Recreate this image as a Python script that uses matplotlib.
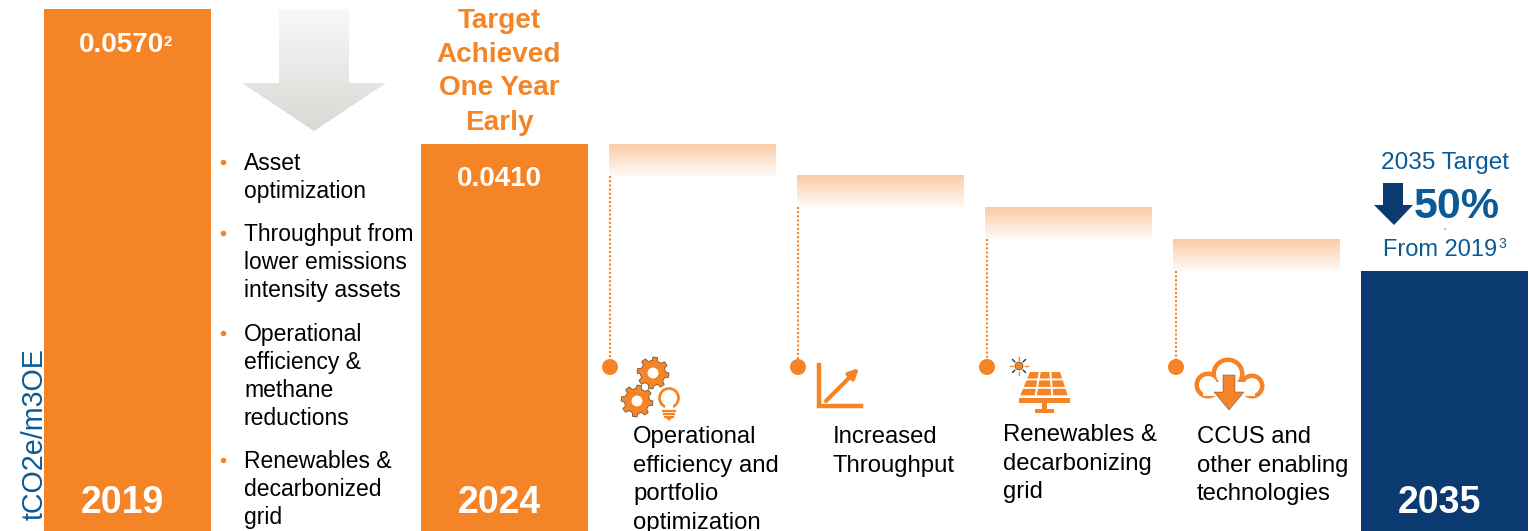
import numpy as np
from matplotlib import pyplot as plt
from matplotlib.patches import Polygon, Circle, Rectangle
from matplotlib.colors import LinearSegmentedColormap

plt.rcParams['font.family'] = ['Liberation Sans', 'DejaVu Sans']

# bars, heights read in picture pixels because the chart is not to scale
years = ['2019', '2024', '2035']
bar_values = ['0.0570', '0.0410']
bar_heights = [522, 387, 260]
step_tops = [144, 175, 207, 239]
step_labels = [
    ['Operational', 'efficiency and', 'portfolio', 'optimization'],
    ['Increased', 'Throughput'],
    ['Renewables &', 'decarbonizing', 'grid'],
    ['CCUS and', 'other enabling', 'technologies'],
]
bullets = [
    ['Asset', 'optimization'],
    ['Throughput from', 'lower emissions', 'intensity assets'],
    ['Operational', 'efficiency &', 'methane', 'reductions'],
    ['Renewables &', 'decarbonized', 'grid'],
]
target_lines = ['Target', 'Achieved', 'One Year', 'Early']

ORANGE = '#F58426'
NAVY = '#0B3A70'
BLUE = '#0B5A96'
BASE = 531

fig = plt.figure(figsize=(15.3, 5.31), dpi=100)
ax = fig.add_axes([0, 0, 1, 1])
ax.set_xlim(0, 1530)
ax.set_ylim(BASE, 0)
ax.axis('off')


def gradient_patch(patch, top, bottom, c1, c2):
    x0, x1 = patch[0], patch[1]
    cmap = LinearSegmentedColormap.from_list('g', [c1, c2])
    im = ax.imshow(np.linspace(0, 1, 128).reshape(-1, 1), cmap=cmap, aspect='auto',
                   extent=(x0, x1, bottom, top), zorder=1)
    return im


def gear(cx, cy, r):
    angles = np.linspace(0, 2 * np.pi, 64, endpoint=False)
    radii = np.where((np.arange(64) % 8) < 4, r, r * 0.78)
    ax.add_patch(Polygon(np.c_[cx + radii * np.cos(angles), cy + radii * np.sin(angles)],
                         fc=ORANGE, ec='#333333', lw=0.4, zorder=3))
    ax.add_patch(Circle((cx, cy), r * 0.34, fc='white', ec='none', zorder=4))


# main bars
bar_x = [44, 421, 1361]
bar_colors = [ORANGE, ORANGE, NAVY]
for x, h, c, y in zip(bar_x, bar_heights, bar_colors, years):
    ax.bar(x, -h, width=167, bottom=BASE, align='edge', color=c, zorder=2)
    ax.text(x + 78.5, 513, y, color='white', fontsize=27, fontweight='bold', ha='center', zorder=5)

ax.text(79, 52, bar_values[0], color='white', fontsize=20, fontweight='bold', zorder=5)
ax.text(164, 46, '2', color='white', fontsize=11, fontweight='bold', zorder=5)
ax.text(499.5, 186, bar_values[1], color='white', fontsize=20, fontweight='bold', ha='center', zorder=5)

for line, y in zip(target_lines, [28, 62, 95, 130]):
    ax.text(499, y, line, color=ORANGE, fontsize=20.1, fontweight='bold', ha='center')

ax.text(35, 520, 'tCO2e/m3OE', color=BLUE, fontsize=20.6, rotation=90, ha='center', va='bottom')

# big gray arrow
im = gradient_patch((242, 386), 9, 131, '#F8F8F7', '#D8D9D5')
arrow = Polygon([(279, 9), (349, 9), (349, 83), (386, 83), (314, 131), (242, 83), (279, 83)],
                fc='none', ec='none', transform=ax.transData)
ax.add_patch(arrow)
im.set_clip_path(arrow)

# bullet list
bullet_y = [170, 241, 341, 468]
for lines, y0 in zip(bullets, bullet_y):
    ax.plot(223, y0 - 8, 'o', color=ORANGE, ms=4, mec='none')
    for i, line in enumerate(lines):
        ax.text(244, y0 + i * 28, line, color='black', fontsize=16.5)

# waterfall steps, dotted leaders and dots
step_x = [609, 797, 985, 1173]
dot_x = [610, 798, 987, 1176]
for x, top, dx in zip(step_x, step_tops, dot_x):
    gradient_patch((x, x + 167), top, top + 32, '#FCCBA3', '#FFFBF8')
    ax.plot([dx, dx], [top + 32, 367], color=ORANGE, lw=1.5, dashes=(1, 1), zorder=2)
    ax.add_patch(Circle((dx, 367), 8, fc=ORANGE, ec='none', zorder=3))

label_x = [633, 833, 1003, 1197]
label_y = [443, 443, 441, 443]
for lines, x, y0 in zip(step_labels, label_x, label_y):
    for i, line in enumerate(lines):
        ax.text(x, y0 + i * 28.6, line, color='black', fontsize=17.2)

# gears and bulb icon
gear(653, 373, 16)
gear(637, 401, 16)
ax.add_patch(Circle((669, 398), 9.5, fc='white', ec=ORANGE, lw=2, zorder=3))
ax.add_patch(Rectangle((665, 405), 8, 6, fc='white', ec='none', zorder=3))
for y, w in zip([411, 414, 417], [12, 10, 8]):
    ax.plot([669 - w / 2, 669 + w / 2], [y, y], color=ORANGE, lw=1.6, zorder=4)
ax.add_patch(Polygon([(666, 418), (672, 418), (669, 421)], fc=ORANGE, ec='none', zorder=4))

# throughput icon
ax.plot([819.5, 819.5, 861], [365, 406, 406], color=ORANGE, lw=3.2, solid_joinstyle='miter', zorder=3)
ax.annotate('', xy=(859, 368), xytext=(826, 401), zorder=3,
            arrowprops=dict(arrowstyle='-|>', color=ORANGE, lw=3, mutation_scale=14, shrinkA=0, shrinkB=0))

# solar panel icon
ax.add_patch(Circle((1019, 366), 4, fc=ORANGE, ec='#333333', lw=0.4, zorder=3))
for a in np.linspace(0, 2 * np.pi, 8, endpoint=False):
    ax.plot([1019 + 6 * np.cos(a), 1019 + 9 * np.cos(a)], [366 + 6 * np.sin(a), 366 + 9 * np.sin(a)],
            color='#333333' if a % (np.pi / 2) else ORANGE, lw=1, zorder=3)


def panel_x(y, k):
    left = 1029 - (y - 372) * 10 / 24
    right = 1061 + (y - 372) * 8 / 24
    return left + (right - left) * k / 3


for r in range(3):
    for c in range(3):
        y0, y1 = 372 + r * 8.4, 378.5 + r * 8.4
        ax.add_patch(Polygon([(panel_x(y0, c) + 1, y0), (panel_x(y0, c + 1) - 1, y0),
                              (panel_x(y1, c + 1) - 1, y1), (panel_x(y1, c) + 1, y1)],
                             fc=ORANGE, ec='none', zorder=3))
ax.add_patch(Rectangle((1019, 398), 51, 5, fc=ORANGE, ec='none', zorder=3))
ax.add_patch(Rectangle((1042, 403), 5, 8, fc=ORANGE, ec='none', zorder=3))
ax.add_patch(Rectangle((1035, 409), 19, 4, fc=ORANGE, ec='none', zorder=3))

# cloud icon
cloud = [(1208, 385, 12), (1228, 374, 15), (1252, 386, 11)]
for cx, cy, r in cloud:
    ax.add_patch(Circle((cx, cy), r + 1.5, fc=ORANGE, ec='none', zorder=3))
for cx, cy, r in cloud:
    ax.add_patch(Circle((cx, cy), r - 3, fc='white', ec='none', zorder=3))
ax.add_patch(Rectangle((1203, 382), 52, 14, fc='white', ec='none', zorder=3))
ax.add_patch(Polygon([(1223, 375), (1235, 375), (1235, 392), (1244, 392), (1229, 410), (1214, 392), (1223, 392)],
                     fc=ORANGE, ec='#444444', lw=0.3, zorder=4))

# 2035 target callout
ax.text(1445.5, 169, '2035 Target', color=BLUE, fontsize=17.6, ha='center')
ax.add_patch(Polygon([(1383, 183), (1403, 183), (1403, 205), (1413, 205), (1394, 225), (1374, 205), (1383, 205)],
                     fc=NAVY, ec='none', zorder=3))
ax.text(1457, 218, '50%', color=BLUE, fontsize=31, fontweight='bold', ha='center')
ax.text(1445, 230, 'x', color=BLUE, fontsize=3, ha='center')
ax.text(1383, 256, 'From 2019', color=BLUE, fontsize=17)
ax.text(1498, 248, '3', color=BLUE, fontsize=10)

fig.savefig('out.png', dpi=100)
